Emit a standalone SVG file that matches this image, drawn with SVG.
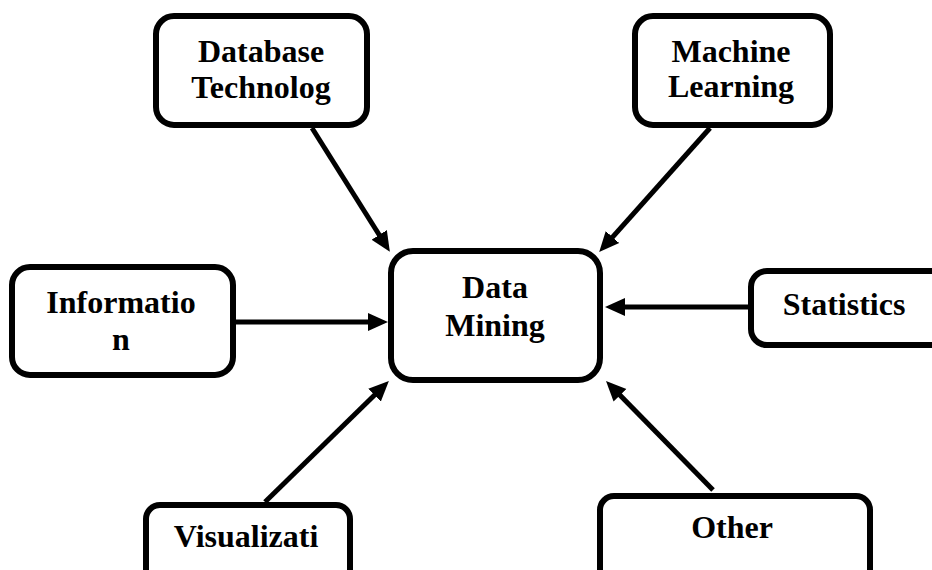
<svg xmlns="http://www.w3.org/2000/svg" width="932" height="570" viewBox="0 0 932 570">
<style>
.box{fill:#fff;stroke:#000;stroke-width:6}
.lbl{font-family:"Liberation Serif","Times New Roman",serif;font-weight:bold;font-size:32px;fill:#000;text-anchor:middle}
.conn line{stroke:#000;stroke-width:5;marker-end:url(#ah)}
</style>
<defs>
<marker id="ah" markerUnits="userSpaceOnUse" markerWidth="22" markerHeight="20" viewBox="0 0 22 20" refX="9" refY="10" orient="auto">
<path d="M0,1 L20,10 L0,19 z" fill="#000"/>
</marker>
</defs>
<rect width="932" height="570" fill="#fff"/>
<g id="connectors" class="conn">
<line x1="312" y1="128" x2="384" y2="242.5"/>
<line x1="710" y1="128" x2="606.5" y2="243.8"/>
<line x1="236" y1="322" x2="377" y2="322"/>
<line x1="748" y1="307" x2="616" y2="307"/>
<line x1="265" y1="502" x2="381" y2="388.8"/>
<line x1="713" y1="490" x2="613.7" y2="388.8"/>
</g>
<g id="database">
<rect class="box" x="156" y="16" width="211" height="109" rx="18"/>
<text class="lbl" x="261" y="62">Database</text>
<text class="lbl" x="261" y="98">Technolog</text>
</g>
<g id="machine">
<rect class="box" x="635" y="16" width="195" height="109" rx="18"/>
<text class="lbl" x="731" y="62">Machine</text>
<text class="lbl" x="731" y="97">Learning</text>
</g>
<g id="datamining">
<rect class="box" x="391" y="251" width="209" height="129" rx="22"/>
<text class="lbl" x="495" y="298">Data</text>
<text class="lbl" x="495" y="336">Mining</text>
</g>
<g id="information">
<rect class="box" x="12" y="267" width="221" height="108" rx="18"/>
<text class="lbl" x="121" y="313">Informatio</text>
<text class="lbl" x="121" y="350">n</text>
</g>
<g id="statistics">
<rect class="box" x="751" y="271" width="200" height="74" rx="16"/>
<text class="lbl" x="844" y="315">Statistics</text>
</g>
<g id="visualization">
<rect class="box" x="146" y="505" width="204" height="90" rx="14"/>
<text class="lbl" x="246" y="547">Visualizati</text>
</g>
<g id="other">
<rect class="box" x="600" y="496" width="270" height="100" rx="14"/>
<text class="lbl" x="732" y="538">Other</text>
</g>
</svg>
